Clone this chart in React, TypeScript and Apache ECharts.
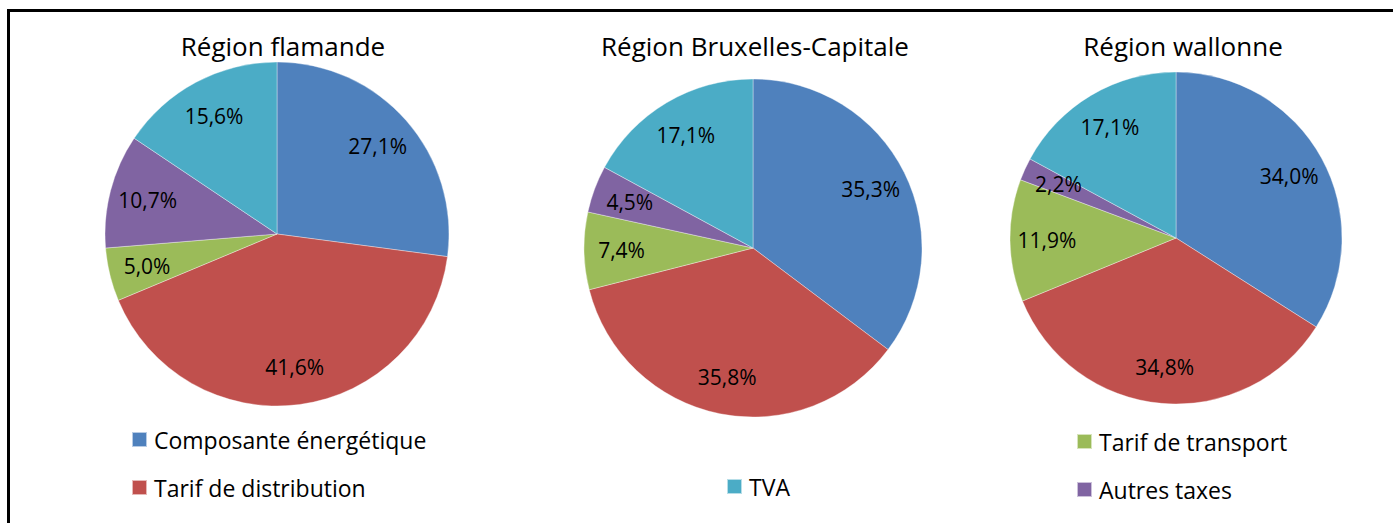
import React, { useEffect, useRef } from "react";
import * as echarts from "echarts";

const categories = [
  "Composante énergétique",
  "Tarif de distribution",
  "Tarif de transport",
  "Autres taxes",
  "TVA",
];
const colors = ["#4F81BD", "#C0504D", "#9BBB59", "#8064A2", "#4BACC6"];
const regions = ["Région flamande", "Région Bruxelles-Capitale", "Région wallonne"];
const flamande = [27.1, 41.6, 5.0, 10.7, 15.6];
const bruxelles = [35.3, 35.8, 7.4, 4.5, 17.1];
const wallonne = [34.0, 34.8, 11.9, 2.2, 17.1];
const regionValues = [flamande, bruxelles, wallonne];

const FONT = "'Open Sans', sans-serif";

export default function App() {
  const ref = useRef<HTMLDivElement>(null);
  useEffect(() => {
    if (!ref.current) return;
    const chart = echarts.init(ref.current, undefined, { renderer: "svg" });
    const pies = [
      { cx: 277, cy: 234, r: 172, tx: 283 },
      { cx: 753, cy: 248, r: 169, tx: 755 },
      { cx: 1176, cy: 238, r: 166, tx: 1183 },
    ];
    const series: any[] = [];
    pies.forEach((p, i) => {
      const data = categories.map((name, k) => ({
        name,
        value: regionValues[i][k],
        itemStyle: { color: colors[k] },
      }));
      series.push({
        type: "pie",
        center: [p.cx, p.cy],
        radius: [0, p.r],
        startAngle: 90,
        clockwise: true,
        label: { show: false },
        labelLine: { show: false },
        emphasis: { disabled: true },
        itemStyle: { borderWidth: 0.6, borderColor: "rgba(255,255,255,0.6)" },
        data,
      });
    });
    pies.forEach((p, i) => {
      const data = categories.map((name, k) => ({
        name,
        value: regionValues[i][k],
      }));
      series.push({
        type: "pie",
        center: [p.cx, p.cy],
        radius: [p.r * 0.52, p.r],
        startAngle: 90,
        clockwise: true,
        silent: true,
        itemStyle: { color: "rgba(0,0,0,0)" },
        emphasis: { disabled: true },
        label: {
          show: true,
          position: "inside",
          color: "#000",
          fontFamily: FONT,
          fontSize: 21,
          formatter: (q: any) => q.value.toFixed(1).replace(".", ",") + "%",
        },
        labelLine: { show: false },
        data,
      });
    });
    const legendBase = {
      orient: "vertical",
      icon: "rect",
      itemWidth: 15,
      itemHeight: 15,
      itemGap: 25,
      padding: 0,
      selectedMode: false,
      textStyle: {
        fontFamily: FONT,
        fontSize: 23,
        lineHeight: 23,
        color: "#000",
        padding: [0, 0, 0, 2],
      },
    };
    const legendItem = (name: string) => ({
      name,
      itemStyle: { color: colors[categories.indexOf(name)] },
    });
    chart.setOption({
      animation: false,
      backgroundColor: "#fff",
      legend: [
        { ...legendBase, left: 131, top: 428, data: [categories[0], categories[1]].map(legendItem) },
        { ...legendBase, left: 726, top: 475, data: [categories[4]].map(legendItem) },
        { ...legendBase, left: 1076, top: 430, data: [categories[2], categories[3]].map(legendItem) },
      ],
      graphic: [
        {
          type: "rect",
          shape: { x: 8.5, y: 10.5, width: 1420, height: 560 },
          style: { fill: "none", stroke: "#000", lineWidth: 3 },
          silent: true,
          z: -1,
        },
        ...pies.map((p, i) => ({
          type: "text",
          x: p.tx,
          y: 46,
          style: {
            text: regions[i],
            fill: "#000",
            font: `26px ${FONT}`,
            textAlign: "center",
            textVerticalAlign: "middle",
          },
        })),
      ],
      series,
    });
    return () => chart.dispose();
  }, []);
  return (
    <div
      ref={ref}
      style={{ position: "fixed", left: 0, top: 0, width: 1393, height: 523 }}
    />
  );
}
